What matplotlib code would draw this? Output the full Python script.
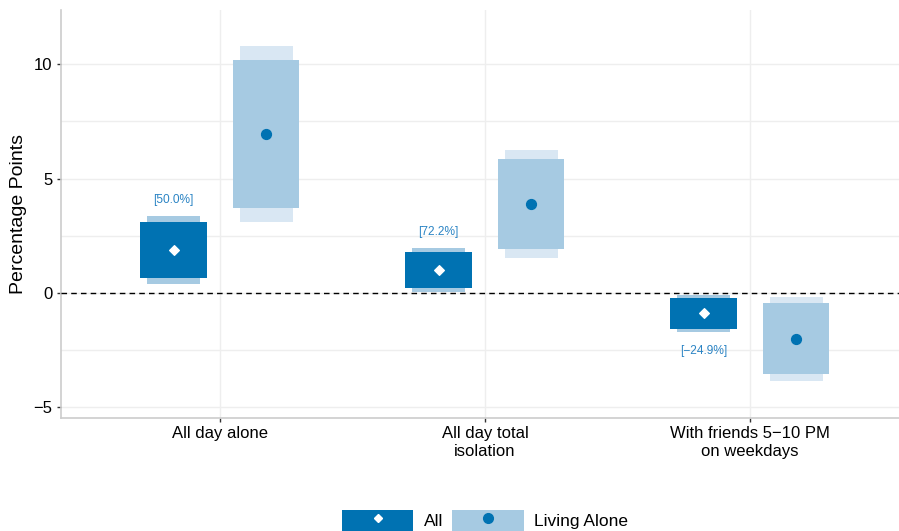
import numpy as np
import matplotlib.pyplot as plt
from matplotlib.patches import Patch
from matplotlib.lines import Line2D

plt.rcParams['font.family'] = ['Liberation Sans', 'DejaVu Sans']

categories = ["All day alone", "All day total\nisolation", "With friends 5\u221210 PM\non weekdays"]

# point estimates and confidence bands (percentage points)
all_est = [1.88, 1.00, -0.89]
all_lo90 = [0.64, 0.20, -1.59]
all_hi90 = [3.11, 1.80, -0.20]
all_lo95 = [0.39, 0.06, -1.72]
all_hi95 = [3.36, 1.95, -0.09]

alone_est = [6.93, 3.89, -2.01]
alone_lo90 = [3.72, 1.91, -3.55]
alone_hi90 = [10.17, 5.85, -0.45]
alone_lo95 = [3.09, 1.51, -3.84]
alone_hi95 = [10.80, 6.24, -0.16]

share_labels = ["[50.0%]", "[72.2%]", "[\u221224.9%]"]
label_y = [4.06, 2.68, -2.52]

dark = '#0072B2'
mid = '#a6cae2'
pale = '#d9e7f3'

fig = plt.figure(figsize=(8.99, 5.31), dpi=100)
ax = fig.add_axes([61 / 899, 1 - 418 / 531, 838 / 899, 408 / 531])

x = np.arange(1, len(categories) + 1)
off = 0.175

def span(lo, hi):
    return np.array(hi) - np.array(lo)

# All
ax.bar(x - off, span(all_lo95, all_hi95), bottom=all_lo95, width=0.2, color=mid, zorder=2)
ax.bar(x - off, span(all_lo90, all_hi90), bottom=all_lo90, width=0.25, color=dark, zorder=3)
ax.scatter(x - off, all_est, marker='D', s=24, color='white', zorder=4)

# Living alone
ax.bar(x + off, span(alone_lo95, alone_hi95), bottom=alone_lo95, width=0.2, color=pale, zorder=2)
ax.bar(x + off, span(alone_lo90, alone_hi90), bottom=alone_lo90, width=0.25, color=mid, zorder=3)
ax.scatter(x + off, alone_est, marker='o', s=50, color=dark, zorder=4)

for xi, lab, yl in zip(x - off, share_labels, label_y):
    ax.text(xi, yl, lab, ha='center', va='center', fontsize=8.6, color='#2b84c4')

ax.axhline(0, color='black', lw=1, ls=(0, (4, 3)), zorder=5)

ax.set_xlim(0.4, 0.4 + 838 / 265)
ax.set_ylim(-5.46, 12.36)
ax.set_xticks(x)
ax.set_xticklabels(categories, fontsize=12)
ax.set_yticks([-5, 0, 5, 10])
ax.set_yticklabels(['\u22125', '0', '5', '10'], fontsize=12)
ax.set_yticks([-2.5, 2.5, 7.5], minor=True)
ax.tick_params(axis='y', which='minor', length=0)
ax.tick_params(axis='both', which='major', length=3, width=1, color='#333333', pad=3, labelcolor='black')
ax.grid(True, which='both', color='#eeeeee', lw=1, zorder=0)
ax.set_axisbelow(True)
for s in ['top', 'right']:
    ax.spines[s].set_visible(False)
for s in ['left', 'bottom']:
    ax.spines[s].set_color('#cccccc')
    ax.spines[s].set_linewidth(1.2)
ax.set_ylabel('Percentage Points', fontsize=14, labelpad=5)

handles = [
    (Patch(facecolor=dark, edgecolor='none'),
     Line2D([], [], marker='D', ls='none', color='white', markersize=4.5)),
    (Patch(facecolor=mid, edgecolor='none'),
     Line2D([], [], marker='o', ls='none', color=dark, markersize=7)),
]
fig.legend(handles, ['All', 'Living Alone'], loc='upper center',
           bbox_to_anchor=(485 / 899, 1 - 510 / 531), ncol=2, frameon=False,
           fontsize=12.5, handlelength=4.1, handleheight=1.5, handletextpad=0.6,
           columnspacing=0.55, borderpad=0, borderaxespad=0)

fig.savefig('out.png', dpi=100)
